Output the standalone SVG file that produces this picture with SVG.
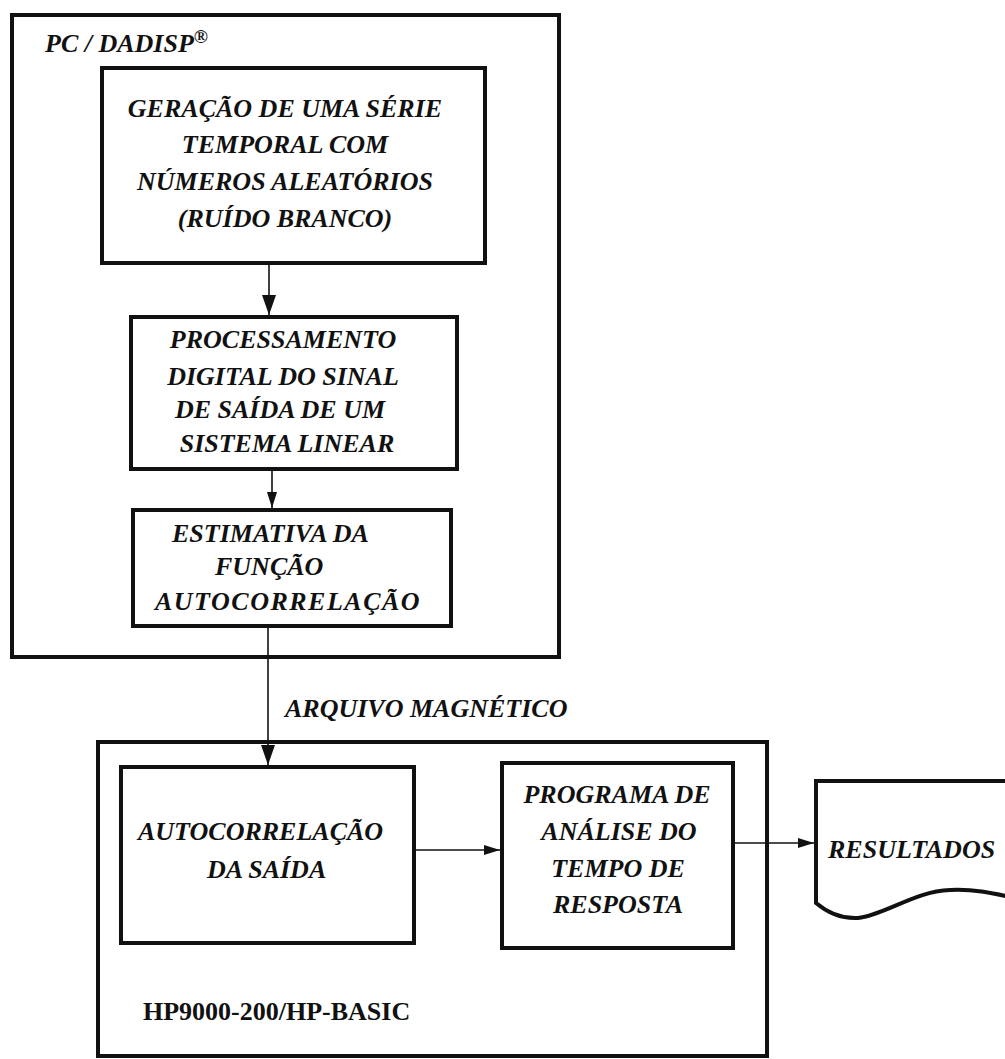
<svg xmlns="http://www.w3.org/2000/svg" width="1005" height="1059" viewBox="0 0 1005 1059">
<defs>
<style>
.box{fill:none;stroke:#111;stroke-width:4}
.con{fill:none;stroke:#111;stroke-width:1.6}
.t{font-family:"Liberation Serif","Times New Roman",serif;font-size:26px;font-style:italic;font-weight:bold;fill:#111}
.c{text-anchor:middle}
.b{font-family:"Liberation Serif","Times New Roman",serif;font-size:26px;font-weight:bold;fill:#111}
</style>
<marker id="ah" viewBox="0 0 16 10" refX="16" refY="5" markerWidth="16" markerHeight="10" markerUnits="userSpaceOnUse" orient="auto">
<path d="M0,0 L16,5 L0,10 Z" fill="#111"/>
</marker>
<marker id="av" viewBox="0 0 20 14" refX="20" refY="7" markerWidth="20" markerHeight="14" markerUnits="userSpaceOnUse" orient="auto">
<path d="M0,0 L20,7 L0,14 Z" fill="#111"/>
</marker>
</defs>
<rect width="1005" height="1059" fill="#fff"/>

<g id="pc-dadisp">
<rect class="box" x="12" y="15" width="547" height="642"/>
<text class="t" x="45" y="52">PC / DADISP<tspan font-size="19" dy="-9">®</tspan></text>
</g>

<g id="geracao">
<rect class="box" x="102" y="68" width="383" height="195"/>
<text class="t c" x="285" y="117">GERAÇÃO DE UMA SÉRIE</text>
<text class="t c" x="285" y="153">TEMPORAL COM</text>
<text class="t c" x="285" y="190">NÚMEROS ALEATÓRIOS</text>
<text class="t c" x="285" y="227">(RUÍDO BRANCO)</text>
</g>

<g id="processamento">
<rect class="box" x="131" y="317" width="326" height="152"/>
<text class="t c" x="283" y="348">PROCESSAMENTO</text>
<text class="t c" x="283" y="385">DIGITAL DO SINAL</text>
<text class="t c" x="280" y="418">DE SAÍDA DE UM</text>
<text class="t c" x="287" y="452">SISTEMA LINEAR</text>
</g>

<g id="estimativa">
<rect class="box" x="133" y="510" width="318" height="116"/>
<text class="t" x="172" y="542">ESTIMATIVA DA</text>
<text class="t" x="215" y="575">FUNÇÃO</text>
<text class="t" x="155" y="610" letter-spacing="1.5">AUTOCORRELAÇÃO</text>
</g>

<g id="hp9000">
<rect class="box" x="98" y="742" width="669" height="314"/>
<text class="b" x="143" y="1020">HP9000-200/HP-BASIC</text>
</g>

<g id="autocorrelacao-saida">
<rect class="box" x="121" y="767" width="293" height="176"/>
<text class="t" x="138" y="840">AUTOCORRELAÇÃO</text>
<text class="t" x="207" y="878">DA SAÍDA</text>
</g>

<g id="programa">
<rect class="box" x="502" y="763" width="231" height="185"/>
<text class="t c" x="617" y="803">PROGRAMA DE</text>
<text class="t c" x="619" y="840">ANÁLISE DO</text>
<text class="t c" x="618" y="877">TEMPO DE</text>
<text class="t c" x="618" y="913">RESPOSTA</text>
</g>

<g id="resultados">
<path class="box" d="M1010,781 L816,781 L816,903 C828,913 842,919 858,918 C885,915 915,891 950,890 C975,889 992,893 1010,897"/>
<text class="t" x="828" y="858">RESULTADOS</text>
</g>

<g id="connectors">
<line class="con" x1="269" y1="263" x2="269" y2="315" marker-end="url(#av)"/>
<line class="con" x1="272" y1="469" x2="272" y2="508" marker-end="url(#ah)"/>
<line class="con" x1="268" y1="626" x2="268" y2="765" marker-end="url(#av)"/>
<line class="con" x1="414" y1="850" x2="500" y2="850" marker-end="url(#ah)"/>
<line class="con" x1="733" y1="843" x2="814" y2="843" marker-end="url(#ah)"/>
<text class="t" x="285" y="717">ARQUIVO MAGNÉTICO</text>
</g>
</svg>
